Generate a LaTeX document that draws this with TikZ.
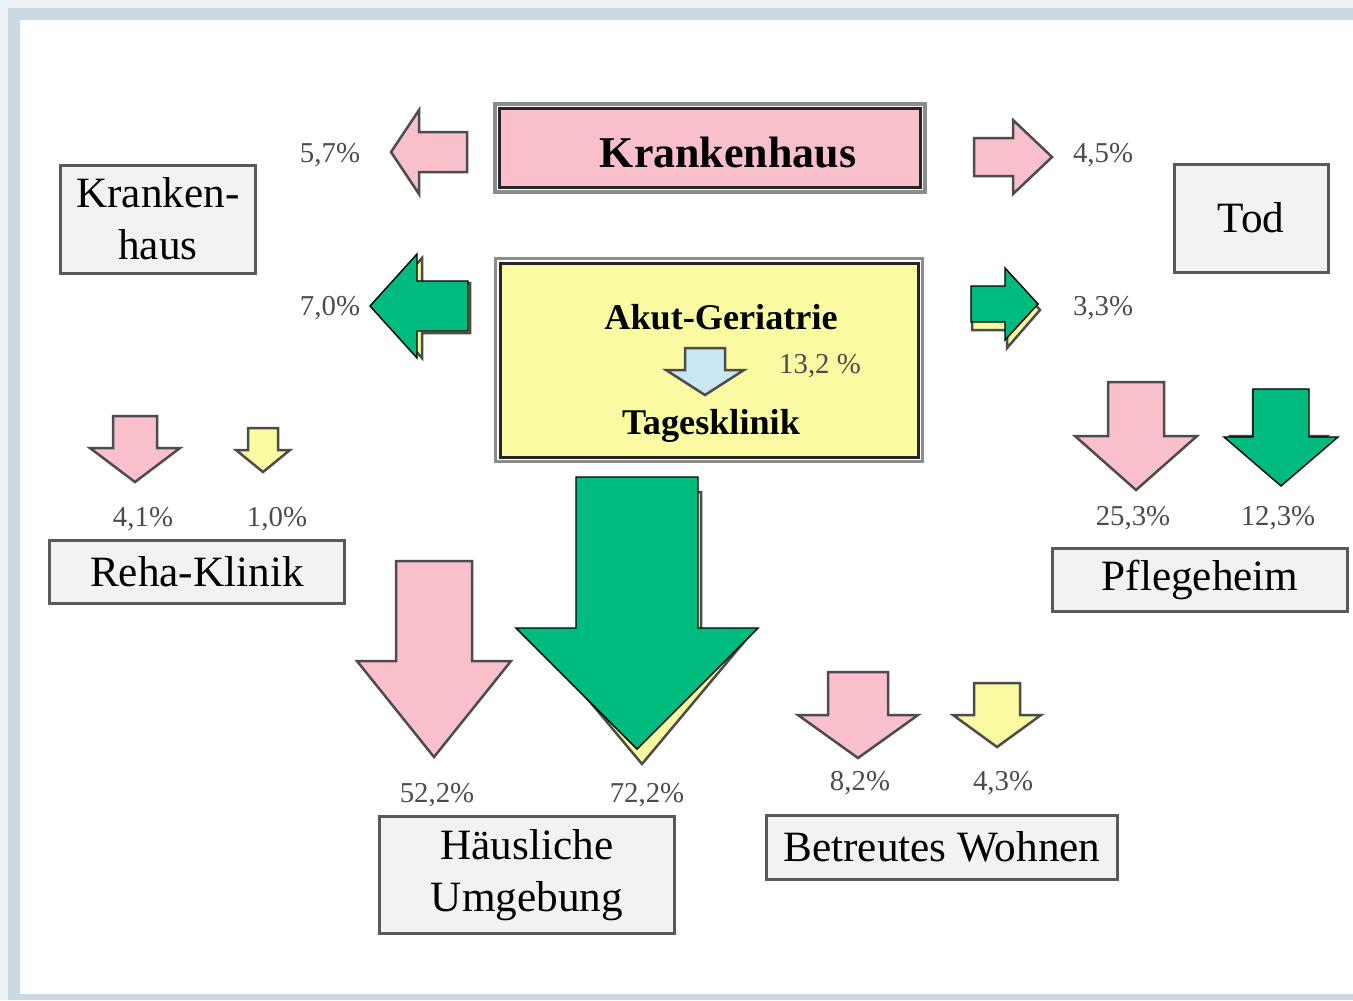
\documentclass[tikz,border=0pt]{standalone}
\usepackage{fontspec}
\setmainfont{Liberation Serif}
\usetikzlibrary{positioning}
\definecolor{pinkfill}{HTML}{F9C0CB}
\definecolor{yellowfill}{HTML}{FAFAA2}
\definecolor{greenfill}{HTML}{00BB80}
\definecolor{bluefill}{HTML}{C9E6F2}
\definecolor{boxgray}{HTML}{F2F2F2}
\definecolor{framebar}{HTML}{C9DAE3}
\definecolor{frameout}{HTML}{EDF2F6}
\tikzset{
place/.style = {draw=black!65, fill=boxgray, line width=0.3mm, align=center, inner sep=0pt, font=\fontsize{12.3}{14.8}\selectfont},
ward/.style = {draw=black!85, line width=0.3mm, inner sep=0pt,
	append after command={
	\pgfextra{
		\pgfinterruptpath
		\draw[black!45, line width=0.35mm] ([shift={(-3,-3)}]\tikzlastnode.north west) rectangle ([shift={(3,3)}]\tikzlastnode.south east);
		\endpgfinterruptpath
	}
	},
},
wardtext/.style = {font=\bfseries\fontsize{12.5}{15}\selectfont, inner sep=0pt},
subtext/.style = {font=\bfseries\fontsize{10.3}{12}\selectfont, inner sep=0pt},
pct/.style = {text=black!70, font=\fontsize{8.2}{10}\selectfont, inner sep=0pt},
pinkarrow/.style = {fill=pinkfill, draw=black!70, line width=0.25mm},
yellowarrow/.style = {fill=yellowfill, draw=black!70, line width=0.25mm},
greenarrow/.style = {fill=greenfill},
bluearrow/.style = {fill=bluefill, draw=black!70, line width=0.25mm}
}
% style, tip, angle, length, head length, shaft half width, head half width
\newcommand{\fatarrow}[7]{%
	\begin{scope}[shift={#2}, rotate=#3]
	\draw[#1] (-#4,-#6) -- (-#5,-#6) -- (-#5,-#7) -- (0,0) -- (-#5,#7) -- (-#5,#6) -- (-#4,#6) -- cycle;
	\end{scope}}

\begin{document}
\begin{tikzpicture}[x=0.1mm, y=-0.1mm]

	\useasboundingbox (0,0) rectangle (1353,1000);
	\fill[frameout] (0,0) rectangle (1353,1000);
	\fill[framebar] (8,8) rectangle (1353,1000);
	\fill[white] (20,20) rectangle (1353,994);

	\node[ward, fill=pinkfill, minimum width=42.1mm, minimum height=7.9mm] (kh) at (710,148) {};
	\node[wardtext] (khtext) at (728,153) {Krankenhaus};
	\node[ward, fill=yellowfill, minimum width=41.8mm, minimum height=19.4mm] (akut) at (709,360) {};
	\node[subtext] (akuttext) at (721,317) {Akut-Geriatrie};
	\node[subtext] (tages) at (711,426) {Tagesklinik};
	\node[pct] (tagpct) at (820,366) {13,2 \%};

	\node[place, minimum width=19.5mm, minimum height=10.8mm] (khleft) at (158,219) {Kranken-\\haus};
	\node[place, minimum width=15.4mm, minimum height=10.8mm] (tod) at (1251,218) {Tod};
	\node[place, minimum width=29.5mm, minimum height=6.3mm] (reha) at (197,572) {Reha-Klinik};
	\node[place, minimum width=29.5mm, minimum height=6.3mm] (pflege) at (1200,580) {Pflegeheim};
	\node[place, minimum width=29.5mm, minimum height=11.7mm] (home) at (527,875) {Häusliche\\Umgebung};
	\node[place, minimum width=35.1mm, minimum height=6.4mm] (wohnen) at (942,847) {Betreutes Wohnen};

	\node[pct] (p57) at (330,155) {5,7\%};
	\node[pct] (p70) at (330,308) {7,0\%};
	\node[pct] (p45) at (1103,155) {4,5\%};
	\node[pct] (p33) at (1103,308) {3,3\%};
	\node[pct] (p41) at (143,519) {4,1\%};
	\node[pct] (p10) at (277,519) {1,0\%};
	\node[pct] (p253) at (1133,518) {25,3\%};
	\node[pct] (p123) at (1278,518) {12,3\%};
	\node[pct] (p522) at (437,795) {52,2\%};
	\node[pct] (p722) at (647,795) {72,2\%};
	\node[pct] (p82) at (860,783) {8,2\%};
	\node[pct] (p43) at (1003,783) {4,3\%};

	\fatarrow{pinkarrow}{(391,152)}{180}{76}{28}{20}{42}
	\fatarrow{yellowarrow}{(377,308)}{180}{93}{45}{25}{50}
	\fatarrow{greenarrow}{(370,306)}{180}{98}{47}{25}{52}
	\fatarrow{pinkarrow}{(1052,157)}{0}{78}{39}{19}{37}
	\fatarrow{yellowarrow}{(1040,310)}{0}{68}{33}{20}{38}
	\fatarrow{greenarrow}{(1038,304)}{0}{67}{33}{18}{36}
	\fatarrow{bluearrow}{(705,395)}{-90}{47}{25}{20}{39}
	\fatarrow{pinkarrow}{(135,482)}{-90}{66}{34}{22}{45}
	\fatarrow{yellowarrow}{(263,472)}{-90}{44}{22}{15}{27}
	\fatarrow{pinkarrow}{(1136,490)}{-90}{108}{54}{28}{61}
	\fatarrow{yellowarrow}{(1279,478)}{-90}{88}{42}{26}{48}
	\fatarrow{greenarrow}{(1281,486)}{-90}{97}{49}{28}{57}
	\fatarrow{pinkarrow}{(434,757)}{-90}{196}{96}{38}{77}
	\fatarrow{yellowarrow}{(642,764)}{-90}{272}{134}{59}{112}
	\fatarrow{greenarrow}{(637,749)}{-90}{272}{121}{61}{121}
	\fatarrow{pinkarrow}{(858,758)}{-90}{86}{43}{30}{60}
	\fatarrow{yellowarrow}{(997,747)}{-90}{64}{32}{23}{44}

\end{tikzpicture}
\end{document}
